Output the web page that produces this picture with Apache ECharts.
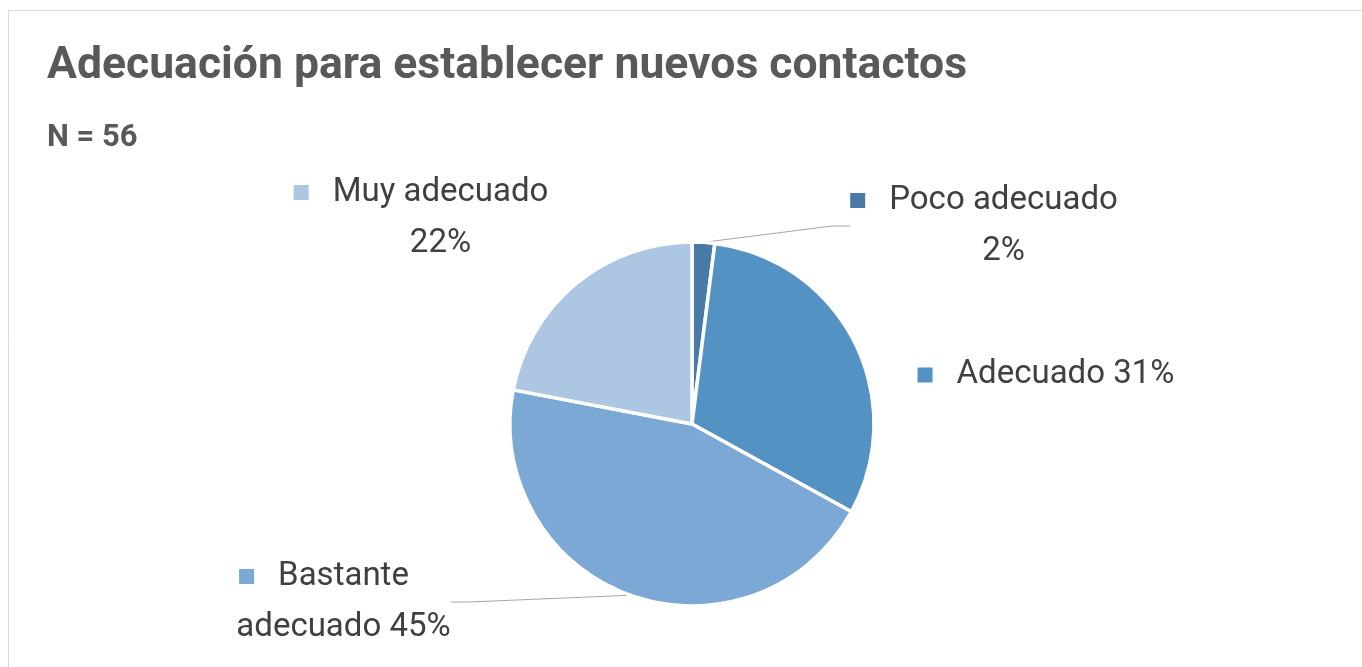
<!DOCTYPE html>
<html>
<head>
<meta charset="utf-8">
<script src="https://cdn.jsdelivr.net/npm/echarts@6/dist/echarts.min.js"></script>
<style>
  html, body { margin: 0; padding: 0; background: #ffffff; }
  #chart { width: 1362px; height: 667px; }
</style>
</head>
<body>
<div id="chart"></div>
<script>
// ---- data ----
const chartTitle = 'Adecuación para establecer nuevos contactos';
const sampleNote = 'N = 56';
const categories = ['Poco adecuado', 'Adecuado', 'Bastante adecuado', 'Muy adecuado'];
const percentages = [2, 31, 45, 22];

// ---- styles ----
const sliceColors = ['#487aa5', '#5592c4', '#7ba8d4', '#adc6e1'];
const labelWrap = ['afterName', 'none', 'firstWord', 'afterName'];
const labelCenters = [[984, 226], [1046, 375], [324, 602], [421, 218]];
const showGuide = [true, false, true, false];

const rich = {
  t: { fontFamily: 'Roboto', fontSize: 33, lineHeight: 51, color: '#404040', align: 'center' },
  g: { width: 24, height: 15 },
  g2: { width: 39, height: 15 }
};
sliceColors.forEach((c, i) => { rich['sq' + i] = { width: 15, height: 15, backgroundColor: c }; });

const chart = echarts.init(document.getElementById('chart'), null, { renderer: 'canvas' });

chart.setOption({
  animation: false,
  backgroundColor: '#ffffff',
  title: [
    {
      text: chartTitle, left: 47, top: 44, padding: 0,
      textStyle: { fontFamily: 'Roboto', fontSize: 44.5, fontWeight: 'bold', color: '#595959' }
    },
    {
      text: sampleNote, left: 47, top: 123, padding: 0,
      textStyle: { fontFamily: 'Roboto', fontSize: 31, fontWeight: 'bold', color: '#595959' }
    }
  ],
  graphic: [{
    type: 'rect', silent: true, z: -10,
    shape: { x: 8.5, y: 10.5, width: 1500, height: 800 },
    style: { fill: 'none', stroke: '#d9d9d9', lineWidth: 1 }
  }],
  series: [{
    type: 'pie',
    center: [692, 424],
    radius: 182,
    startAngle: 90,
    clockwise: true,
    percentPrecision: 0,
    avoidLabelOverlap: false,
    emphasis: { disabled: true },
    itemStyle: { borderColor: '#ffffff', borderWidth: 3.5 },
    label: {
      show: true,
      position: 'outside',
      rich: rich,
      formatter: function (p) {
        const i = p.dataIndex;
        const pct = p.percent + '%';
        let lines;
        if (labelWrap[i] === 'none') {
          lines = [p.name + ' ' + pct];
        } else if (labelWrap[i] === 'firstWord') {
          const k = p.name.indexOf(' ');
          lines = [p.name.slice(0, k), p.name.slice(k + 1) + ' ' + pct];
        } else {
          lines = [p.name, pct];
        }
        let s = '{sq' + i + '|}{g|}{t|' + lines[0] + '}';
        for (let j = 1; j < lines.length; j++) s += '\n{g2|}{t|' + lines[j] + '}';
        return s;
      }
    },
    labelLine: {
      show: true, length: 15, length2: 18, smooth: false,
      lineStyle: { color: '#a6a6a6', width: 1 }
    },
    labelLayout: function (params) {
      const c = labelCenters[params.dataIndex];
      return { x: c[0], y: c[1], align: 'center', verticalAlign: 'middle' };
    },
    data: categories.map((name, i) => ({
      name: name,
      value: percentages[i],
      itemStyle: { color: sliceColors[i] },
      labelLine: { show: showGuide[i] }
    }))
  }]
});
</script>
</body>
</html>
